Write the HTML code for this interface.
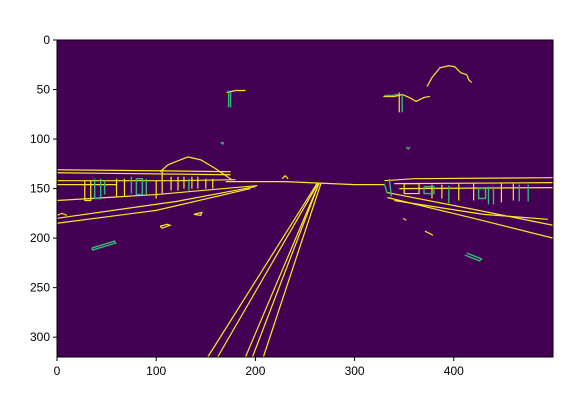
<!DOCTYPE html>
<html><head><meta charset="utf-8"><style>
html,body{margin:0;padding:0;background:#fff;width:577px;height:407px;overflow:hidden}
svg{position:absolute;left:0;top:0}
text{font-family:"Liberation Sans",sans-serif;font-size:12px;fill:#000}
</style></head><body>
<svg id="chart" width="577" height="407"></svg>
<script>
// image extent (data units)
const imgW = 500, imgH = 320;
const xTicks = [0, 100, 200, 300, 400];
const yTicks = [0, 50, 100, 150, 200, 250, 300];
// yellow edges (polylines in image coords)
const yellowEdges = [
  [[152,320],[262,145]], [[162,320],[263,145]], [[190,320],[264,145]], [[197,320],[264,145]], [[208,320],[266,145]],
  [[0,131],[100,132],[175,133]], [[0,134],[175,136]], [[0,142],[120,142],[180,141]], [[0,146],[60,146]],
  [[170,143],[230,143],[300,146],[330,146]],
  [[0,162],[100,156],[202,147]], [[0,180],[120,163],[200,148]], [[0,185],[100,172],[195,150]],
  [[104,133],[112,126],[122,122],[132,118],[145,121],[160,130],[176,141]],
  [[330,142],[360,140],[500,139]], [[340,145],[500,144]], [[345,150],[500,149]],
  [[333,154],[420,171],[500,187]], [[333,159],[420,180],[500,200]], [[340,162],[430,176],[495,181]],
  [[373,47],[378,38],[386,28],[395,26],[401,27],[407,33],[413,35],[415,40],[418,43]],
  [[329,57],[340,57],[348,55],[355,58],[362,62],[370,58],[376,57]],
  [[171,53],[180,51],[190,51]],
  [[28,142],[28,162],[34,162],[34,142]], [[60,140],[60,158]], [[68,140],[68,158]], [[100,142],[100,160]],
  [[106,132],[106,155]], [[115,138],[115,152]], [[122,138],[122,152]], [[128,138],[128,150]],
  [[136,138],[136,150]], [[142,138],[142,150]], [[150,140],[150,150]], [[157,140],[157,150]],
  [[0,177],[5,175],[10,177]], [[104,188],[111,186],[114,187],[106,190],[104,188]], [[138,176],[146,174],[145,177],[138,176]],
  [[350,145],[365,145],[365,155],[350,155],[350,145]], [[378,146],[378,160]], [[388,146],[388,160]],
  [[405,145],[405,162]], [[420,145],[420,162]], [[448,145],[448,164]], [[460,145],[460,162]],
  [[349,180],[352,182]], [[371,193],[379,197]], [[227,140],[230,137],[233,140]], [[345,53],[345,73]]
];
// teal/green edges
const tealEdges = [
  [[173,51],[173,68]], [[175,53],[175,68]], [[165,103],[167,105],[168,103]],
  [[330,56],[338,56],[344,55]], [[348,55],[348,73]],
  [[352,108],[354,110],[356,108]],
  [[35,210],[58,203],[59,205],[36,212],[35,210]],
  [[413,215],[428,221],[426,223],[411,217]],
  [[38,140],[38,160],[44,160],[44,140]], [[48,142],[48,156]], [[75,138],[75,155]], [[90,140],[90,156]],
  [[80,140],[86,140],[86,156],[80,156],[80,140]], [[133,140],[133,152]],
  [[330,145],[333,155]], [[335,140],[337,158]], [[395,147],[395,165]], [[435,148],[435,166]], [[440,148],[440,166]],
  [[466,146],[466,163]], [[475,146],[475,163]],
  [[425,150],[432,150],[432,160],[425,160],[425,150]], [[370,148],[380,148],[380,155],[370,155],[370,148]]
];
const ns = "http://www.w3.org/2000/svg";
const svg = document.getElementById('chart');
const L = 57, T = 40, W = 496, H = 317;
const sx = v => L + v * W / imgW;
const sy = v => T + v * H / imgH;
function mk(tag, attrs){const e=document.createElementNS(ns,tag);for(const k in attrs)e.setAttribute(k,attrs[k]);svg.appendChild(e);return e;}
const bg = mk('rect',{x:L,y:T,width:W,height:H,fill:'#440154'});


yellowEdges.forEach(pl=>{
  const e = mk('polyline',{points:pl.map(p=>sx(p[0])+','+sy(p[1])).join(' '),fill:'none',stroke:'#fde725','stroke-width':1.2});
  
  
});
tealEdges.forEach(pl=>{
  const e = mk('polyline',{points:pl.map(p=>sx(p[0])+','+sy(p[1])).join(' '),fill:'none',stroke:'#35b779','stroke-width':1.4});
  
  
});
const frame = mk('rect',{x:L,y:T,width:W,height:H,fill:'none',stroke:'#000','stroke-width':1});


xTicks.forEach(t=>{
  const x = sx(t);
  const tk = mk('line',{x1:x,x2:x,y1:T+H,y2:T+H+4,stroke:'#000'});
  
  
  const lb = mk('text',{x:x,y:T+H+18,'text-anchor':'middle'});
  lb.textContent = t;
  
  
});
yTicks.forEach(t=>{
  const y = sy(t);
  const tk = mk('line',{x1:L-4,x2:L,y1:y,y2:y,stroke:'#000'});
  
  
  const lb = mk('text',{x:L-7,y:y+4,'text-anchor':'end'});
  lb.textContent = t;
  
  
});
</script>
</body></html>
